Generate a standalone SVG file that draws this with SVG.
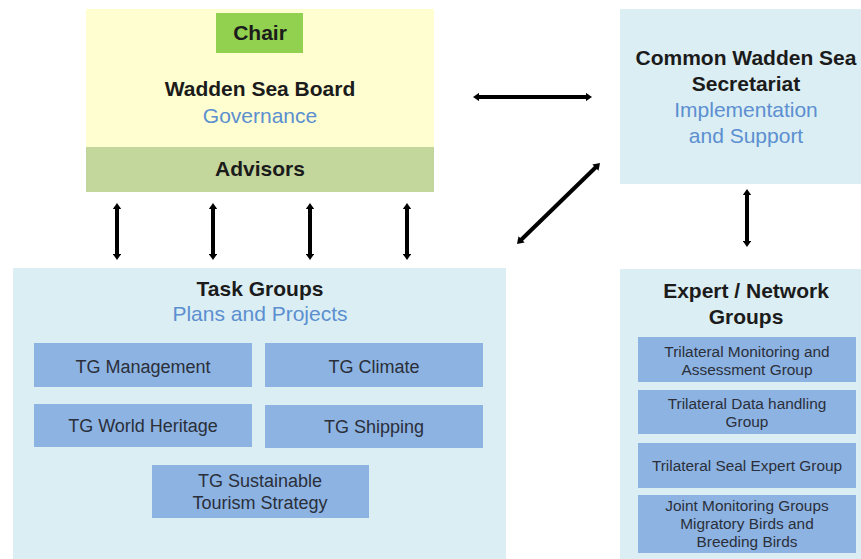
<svg xmlns="http://www.w3.org/2000/svg" width="861" height="559" viewBox="0 0 861 559">
  <defs>
    <marker id="ah" viewBox="0 0 10 10" refX="3" refY="5" markerWidth="1.6" markerHeight="2.2" preserveAspectRatio="none" orient="auto-start-reverse" markerUnits="strokeWidth">
      <path d="M0,0 L10,5 L0,10 z" fill="#000"/>
    </marker>
    <style>
      text { font-family: "Liberation Sans", Arial, sans-serif; text-anchor: middle; fill: #1b1b1b; }
      .h { font-weight: bold; font-size: 21px; }
      .sub { font-size: 21px; fill: #5b8fd0; }
      .it { font-size: 18px; fill: #2a2f3a; }
      .eit { font-size: 15.4px; fill: #2a2f3a; }
      .pale { fill: #dbeef3; }
      .cell { fill: #8db3e2; }
      .link { stroke: #000; stroke-width: 4; fill: none; marker-start: url(#ah); marker-end: url(#ah); }
    </style>
  </defs>
  <rect width="861" height="559" fill="#fff"/>

  <!-- Board with chair and advisors -->
  <g id="board">
    <rect x="86" y="9" width="348" height="139" fill="#fefed0"/>
    <rect x="86" y="147" width="348" height="45" fill="#c3d69b"/>
    <text class="h" x="260" y="176">Advisors</text>
    <text class="h" x="260" y="96">Wadden Sea Board</text>
    <text class="sub" x="260" y="123">Governance</text>
  </g>
  <g id="chair">
    <rect x="216" y="13" width="87" height="40" fill="#92d050"/>
    <text class="h" x="260" y="40">Chair</text>
  </g>

  <!-- Secretariat -->
  <g id="secretariat">
    <rect class="pale" x="620" y="9" width="241" height="175"/>
    <text class="h" x="746" y="65">Common Wadden Sea</text>
    <text class="h" x="746" y="91">Secretariat</text>
    <text class="sub" x="746" y="117">Implementation</text>
    <text class="sub" x="746" y="143">and Support</text>
  </g>

  <!-- Task groups -->
  <g id="task-groups">
    <rect class="pale" x="13" y="268" width="493" height="291"/>
    <text class="h" x="260" y="296">Task Groups</text>
    <text class="sub" x="260" y="321">Plans and Projects</text>
  </g>
  <g id="tg-management">
    <rect class="cell" x="34" y="343" width="218" height="44"/>
    <text class="it" x="143" y="373">TG Management</text>
  </g>
  <g id="tg-climate">
    <rect class="cell" x="265" y="343" width="218" height="44"/>
    <text class="it" x="374" y="373">TG Climate</text>
  </g>
  <g id="tg-world-heritage">
    <rect class="cell" x="34" y="404" width="218" height="43"/>
    <text class="it" x="143" y="432">TG World Heritage</text>
  </g>
  <g id="tg-shipping">
    <rect class="cell" x="265" y="405" width="218" height="43"/>
    <text class="it" x="374" y="433">TG Shipping</text>
  </g>
  <g id="tg-tourism">
    <rect class="cell" x="152" y="465" width="217" height="53"/>
    <text class="it" x="260" y="487">TG Sustainable</text>
    <text class="it" x="260" y="509">Tourism Strategy</text>
  </g>

  <!-- Expert / network groups -->
  <g id="expert-groups">
    <rect class="pale" x="620" y="269" width="241" height="290"/>
    <text class="h" x="746" y="298">Expert / Network</text>
    <text class="h" x="746" y="324">Groups</text>
  </g>
  <g id="eg-monitoring">
    <rect class="cell" x="638" y="337" width="218" height="45"/>
    <text class="eit" x="747" y="357">Trilateral Monitoring and</text>
    <text class="eit" x="747" y="375">Assessment Group</text>
  </g>
  <g id="eg-data">
    <rect class="cell" x="638" y="390" width="218" height="44"/>
    <text class="eit" x="747" y="409">Trilateral Data handling</text>
    <text class="eit" x="747" y="427">Group</text>
  </g>
  <g id="eg-seal">
    <rect class="cell" x="638" y="443" width="218" height="45"/>
    <text class="eit" x="747" y="471">Trilateral Seal Expert Group</text>
  </g>
  <g id="eg-birds">
    <rect class="cell" x="638" y="495" width="218" height="58"/>
    <text class="eit" x="747" y="511">Joint Monitoring Groups</text>
    <text class="eit" x="747" y="529">Migratory Birds and</text>
    <text class="eit" x="747" y="547">Breeding Birds</text>
  </g>

  <!-- Connectors: double-headed, heads drawn past the line ends -->
  <g id="connectors">
    <line class="link" x1="117" y1="207.5" x2="117" y2="255.5"/>
    <line class="link" x1="213" y1="207.5" x2="213" y2="255.5"/>
    <line class="link" x1="310" y1="207.5" x2="310" y2="255.5"/>
    <line class="link" x1="407" y1="207.5" x2="407" y2="255.5"/>
    <line class="link" x1="477.5" y1="97" x2="587.5" y2="97"/>
    <line class="link" x1="596.8" y1="166.2" x2="520.2" y2="240.8"/>
    <line class="link" x1="747" y1="193.5" x2="747" y2="242.5"/>
  </g>
</svg>
